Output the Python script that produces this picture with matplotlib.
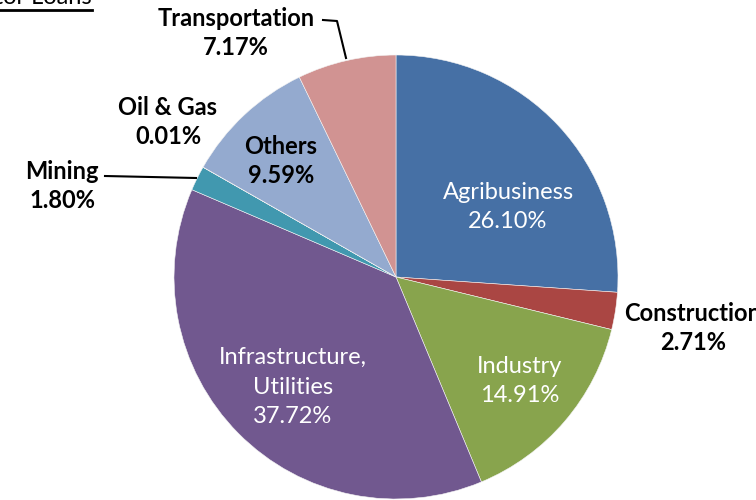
import matplotlib.pyplot as plt

# Datos del gráfico
sectors = ['Agribusiness', 'Construction', 'Industry', 'Infrastructure,\nUtilities',
           'Mining', 'Oil & Gas', 'Others', 'Transportation']
shares = [26.10, 2.71, 14.91, 37.72, 1.80, 0.01, 9.59, 7.17]
colors = ['#4670A5', '#AA4643', '#88A44D', '#71588F', '#4198AF', '#DB843D', '#94AACF', '#D19392']

plt.rcParams['font.family'] = ['Lato', 'DejaVu Sans']

fig = plt.figure(figsize=(7.56, 5), dpi=100)
ax = fig.add_axes([0, 0, 1, 1])
ax.set_xlim(0, 756)
ax.set_ylim(0, 500)
ax.set_aspect('equal')
ax.axis('off')

cx, cy, r = 396, 500 - 277, 222
wedges, _ = ax.pie(shares, colors=colors, startangle=90, counterclock=False,
                   center=(cx, cy), radius=r,
                   wedgeprops=dict(edgecolor='#f4f4f4', linewidth=0.4))
ax.set_xlim(0, 756)
ax.set_ylim(0, 500)

def lbl(i):
    return f'{sectors[i]}\n{shares[i]:.2f}%'

# etiquetas blancas dentro
inside = {0: (508, 207), 2: (520, 381), 3: (293, 387)}
for i, (x, y) in inside.items():
    ax.text(x, 500 - y, lbl(i), color='white', fontsize=17, ha='center', va='center',
            linespacing=1.5)

# etiquetas negras en negrita
outside = {1: (693, 328), 4: (62, 186), 5: (168, 122), 6: (281, 161), 7: (236, 33)}
for i, (x, y) in outside.items():
    ax.text(x, 500 - y, lbl(i), color='black', fontsize=17, fontweight='bold',
            ha='center', va='center', linespacing=1.35)

# líneas guía
ax.plot([323, 337, 346], [500 - 20, 500 - 21, 500 - 58], color='black', lw=1.5)
ax.plot([105, 196], [500 - 176, 500 - 178], color='black', lw=1.5)

# título cortado arriba a la izquierda
ax.text(92, 500 - 4, 'Sector Loans', fontsize=17, ha='right', va='baseline', color='black')
ax.plot([0, 92], [500 - 10, 500 - 10], color='black', lw=2)

fig.savefig('out.png', dpi=100)
